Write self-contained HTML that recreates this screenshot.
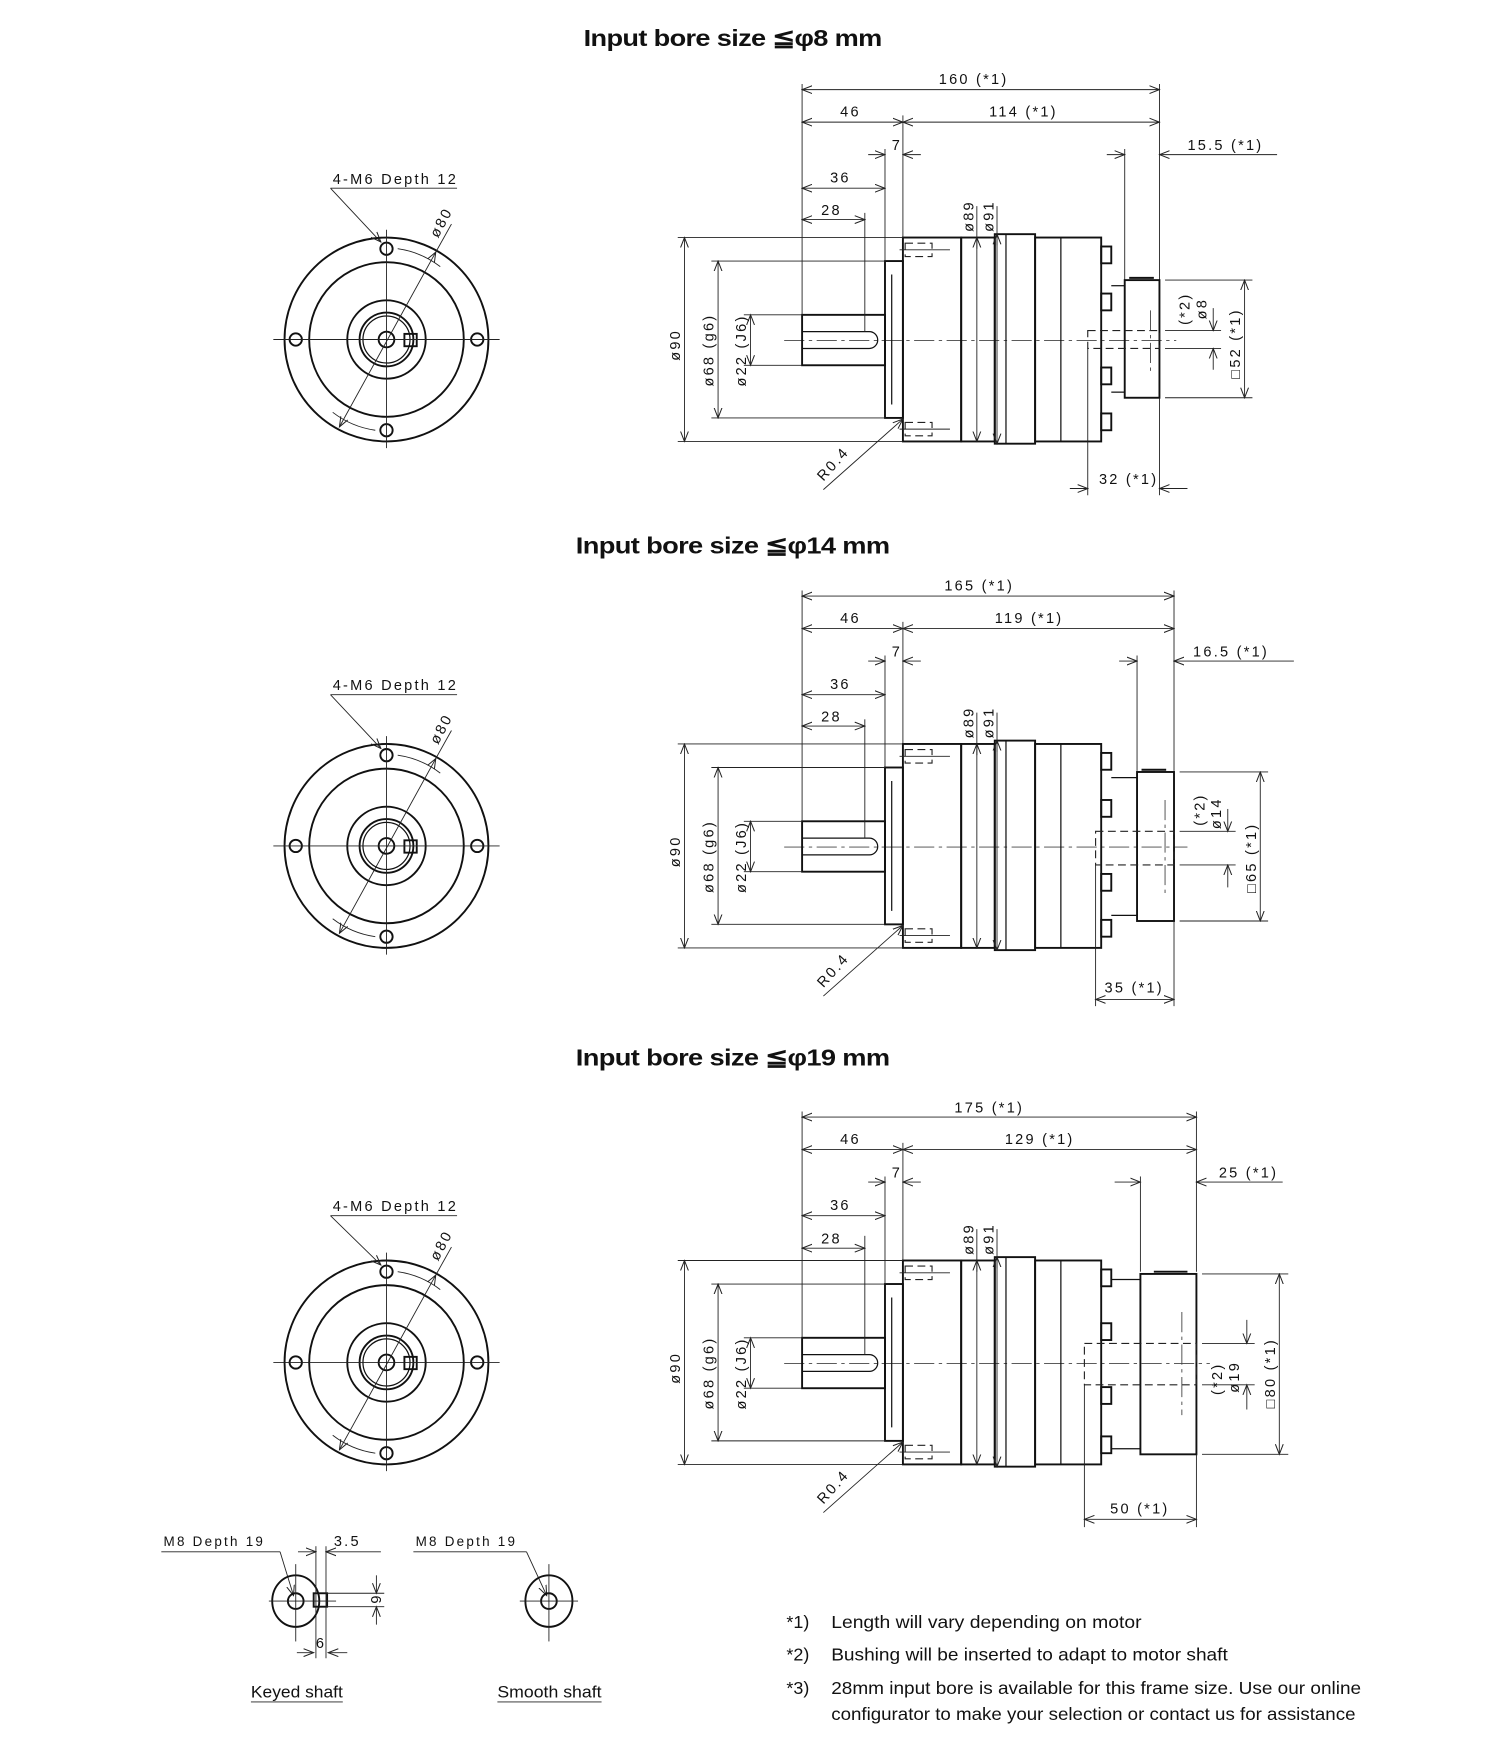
<!DOCTYPE html>
<html><head><meta charset="utf-8"><style>
html,body{margin:0;padding:0;background:#fff}
svg{display:block}
text{font-family:"Liberation Sans",sans-serif;fill:#111}
.t{font-size:13px;letter-spacing:2px}
.h{font-size:21px;font-weight:bold;letter-spacing:-0.5px}
.n{font-size:16px}
.k{stroke:#111;stroke-width:1.7;fill:none}
.m{stroke:#111;stroke-width:1.1;fill:none}
.s{stroke:#222;stroke-width:0.8;fill:none}
.d{stroke:#222;stroke-width:1;fill:none;stroke-dasharray:7,4}
.c{stroke:#444;stroke-width:0.8;fill:none;stroke-dasharray:18,4,3,4}
</style></head><body>
<svg width="1500" height="1749" viewBox="0 0 1339 1561" preserveAspectRatio="none" xmlns="http://www.w3.org/2000/svg">
<defs>
<marker id="a" markerWidth="10" markerHeight="8" refX="9" refY="4" orient="auto-start-reverse" markerUnits="userSpaceOnUse">
<path d="M0,0.5 L9,4 L0,7.5" fill="none" stroke="#222" stroke-width="0.9"/></marker>
</defs>

<!-- ===== SECTION 1 ===== -->
<g id="s1">
<text class="h" x="521" y="41" textLength="266" lengthAdjust="spacingAndGlyphs">Input bore size  ≦φ8 mm</text>
<circle class="k" cx="345" cy="303" r="91"/>
<circle class="k" cx="345" cy="303" r="69"/>
<circle class="k" cx="345" cy="303" r="35"/>
<circle class="k" cx="345" cy="303" r="24"/>
<circle class="m" cx="345" cy="303" r="21"/>
<circle class="k" cx="345" cy="303" r="7"/>
<rect class="k" x="361" y="298" width="11" height="11"/>
<circle class="k" cx="345" cy="222" r="5.5"/><circle class="k" cx="345" cy="384" r="5.5"/>
<circle class="k" cx="264" cy="303" r="5.5"/><circle class="k" cx="426" cy="303" r="5.5"/>
<line class="s" x1="244" y1="303" x2="446" y2="303"/><line class="s" x1="345" y1="205" x2="345" y2="400"/>
<line class="s" x1="303" y1="381" x2="389" y2="225" marker-start="url(#a)" marker-end="url(#a)"/>
<line class="s" x1="389" y1="225" x2="403" y2="200"/>
<path class="s" d="M355,222 A81,81 0 0 1 393,238"/>
<path class="s" d="M297,368 A81,81 0 0 0 335,384"/>
<text class="t" x="297" y="164">4-M6 Depth 12</text>
<line class="s" x1="295" y1="168" x2="408" y2="168"/>
<line class="s" x1="295" y1="168" x2="340" y2="216" marker-end="url(#a)"/>
<text class="t" transform="translate(391,213) rotate(-62)">ø80</text>
<line class="c" x1="700" y1="304" x2="1050" y2="304"/>
<rect class="k" x="716" y="281" width="74" height="45"/>
<path class="m" d="M716,296 H776 A7.5,7.5 0 0 1 776,311 H716"/>
<rect class="k" x="790" y="233" width="16" height="140"/>
<line class="m" x1="796" y1="245" x2="796" y2="361"/>
<rect class="k" x="806" y="212" width="52" height="182"/>
<rect class="k" x="858" y="212" width="30" height="182"/>
<rect class="k" x="888" y="209" width="36" height="187"/>
<line class="m" x1="898" y1="209" x2="898" y2="396"/>
<rect class="k" x="924" y="212" width="59" height="182"/>
<line class="m" x1="947" y1="212" x2="947" y2="394"/>
<rect class="d" x="808" y="217" width="24" height="12"/><rect class="d" x="808" y="377" width="24" height="12"/>
<line class="s" x1="803" y1="223" x2="848" y2="223"/><line class="s" x1="803" y1="383" x2="848" y2="383"/>
<rect class="k" x="983" y="220" width="9" height="15"/><rect class="k" x="983" y="262" width="9" height="15"/>
<rect class="k" x="983" y="328" width="9" height="15"/><rect class="k" x="983" y="369" width="9" height="15"/>
<line class="s" x1="716" y1="75" x2="716" y2="281"/>
<line class="s" x1="806" y1="103" x2="806" y2="212"/>
<line class="s" x1="790" y1="133" x2="790" y2="233"/>
<line class="s" x1="772" y1="190" x2="772" y2="296"/>
<line class="s" x1="716" y1="109" x2="806" y2="109" marker-start="url(#a)" marker-end="url(#a)"/>
<text class="t" x="750" y="104">46</text>
<line class="s" x1="775" y1="138" x2="790" y2="138" marker-end="url(#a)"/>
<line class="s" x1="822" y1="138" x2="806" y2="138" marker-end="url(#a)"/>
<text class="t" x="796" y="134">7</text>
<line class="s" x1="716" y1="168" x2="790" y2="168" marker-start="url(#a)" marker-end="url(#a)"/>
<text class="t" x="741" y="163">36</text>
<line class="s" x1="716" y1="196" x2="772" y2="196" marker-start="url(#a)" marker-end="url(#a)"/>
<text class="t" x="733" y="192">28</text>
<line class="s" x1="872" y1="184" x2="872" y2="394" marker-end="url(#a)"/>
<line class="s" x1="872" y1="212" x2="872" y2="222" marker-start="url(#a)"/>
<line class="s" x1="890" y1="184" x2="890" y2="396" marker-end="url(#a)"/>
<line class="s" x1="890" y1="209" x2="890" y2="219" marker-start="url(#a)"/>
<text class="t" transform="translate(869,207) rotate(-90)">ø89</text>
<text class="t" transform="translate(887,207) rotate(-90)">ø91</text>
<line class="s" x1="605" y1="212" x2="806" y2="212"/><line class="s" x1="605" y1="394" x2="806" y2="394"/>
<line class="s" x1="611" y1="212" x2="611" y2="394" marker-start="url(#a)" marker-end="url(#a)"/>
<line class="s" x1="635" y1="233" x2="790" y2="233"/><line class="s" x1="635" y1="373" x2="790" y2="373"/>
<line class="s" x1="641" y1="233" x2="641" y2="373" marker-start="url(#a)" marker-end="url(#a)"/>
<line class="s" x1="664" y1="281" x2="716" y2="281"/><line class="s" x1="664" y1="326" x2="716" y2="326"/>
<line class="s" x1="670" y1="281" x2="670" y2="326" marker-start="url(#a)" marker-end="url(#a)"/>
<text class="t" transform="translate(607,322) rotate(-90)">ø90</text>
<text class="t" transform="translate(637,345) rotate(-90)">ø68 (g6)</text>
<text class="t" transform="translate(666,345) rotate(-90)">ø22 (J6)</text>
<line class="s" x1="735" y1="437" x2="806" y2="374" marker-end="url(#a)"/>
<text class="t" transform="translate(735,430) rotate(-48)">R0.4</text>
<line class="s" x1="1035" y1="75" x2="1035" y2="250"/>
<line class="s" x1="716" y1="80" x2="1035" y2="80" marker-start="url(#a)" marker-end="url(#a)"/>
<text class="t" x="838" y="75">160 (*1)</text>
<line class="s" x1="806" y1="109" x2="1035" y2="109" marker-start="url(#a)" marker-end="url(#a)"/>
<text class="t" x="883" y="104">114 (*1)</text>
<line class="s" x1="1004" y1="133" x2="1004" y2="250"/>
<line class="s" x1="988" y1="138" x2="1004" y2="138" marker-end="url(#a)"/>
<line class="s" x1="1140" y1="138" x2="1035" y2="138" marker-end="url(#a)"/>
<text class="t" x="1060" y="134">15.5 (*1)</text>
<rect class="k" x="1004" y="250" width="31" height="105"/>
<line class="k" x1="1008" y1="248" x2="1030" y2="248"/>
<line class="m" x1="992" y1="255" x2="1004" y2="255"/><line class="m" x1="992" y1="350" x2="1004" y2="350"/>
<rect class="d" x="971" y="295" width="64" height="16"/>
<line class="c" x1="1027" y1="277" x2="1027" y2="332"/>
<line class="s" x1="971" y1="311" x2="971" y2="442"/><line class="s" x1="1035" y1="355" x2="1035" y2="442"/>
<line class="s" x1="955" y1="436" x2="971" y2="436" marker-end="url(#a)"/>
<line class="s" x1="1060" y1="436" x2="1035" y2="436" marker-end="url(#a)"/>
<text class="t" x="981" y="432">32 (*1)</text>
<line class="s" x1="1040" y1="250" x2="1118" y2="250"/><line class="s" x1="1040" y1="355" x2="1118" y2="355"/>
<line class="s" x1="1111" y1="250" x2="1111" y2="355" marker-start="url(#a)" marker-end="url(#a)"/>
<text class="t" transform="translate(1107,338) rotate(-90)">□52 (*1)</text>
<line class="s" x1="1040" y1="295" x2="1090" y2="295"/><line class="s" x1="1040" y1="311" x2="1090" y2="311"/>
<line class="s" x1="1083" y1="275" x2="1083" y2="295" marker-end="url(#a)"/>
<line class="s" x1="1083" y1="330" x2="1083" y2="311" marker-end="url(#a)"/>
<text class="t" transform="translate(1062,290) rotate(-90)">(*2)</text>
<text class="t" transform="translate(1077,285) rotate(-90)">ø8</text>
</g>

<!-- ===== SECTION 2 ===== -->
<g transform="translate(0,452)">
<text class="h" x="514" y="42" textLength="280" lengthAdjust="spacingAndGlyphs">Input bore size  ≦φ14 mm</text>
<circle class="k" cx="345" cy="303" r="91"/>
<circle class="k" cx="345" cy="303" r="69"/>
<circle class="k" cx="345" cy="303" r="35"/>
<circle class="k" cx="345" cy="303" r="24"/>
<circle class="m" cx="345" cy="303" r="21"/>
<circle class="k" cx="345" cy="303" r="7"/>
<rect class="k" x="361" y="298" width="11" height="11"/>
<circle class="k" cx="345" cy="222" r="5.5"/><circle class="k" cx="345" cy="384" r="5.5"/>
<circle class="k" cx="264" cy="303" r="5.5"/><circle class="k" cx="426" cy="303" r="5.5"/>
<line class="s" x1="244" y1="303" x2="446" y2="303"/><line class="s" x1="345" y1="205" x2="345" y2="400"/>
<line class="s" x1="303" y1="381" x2="389" y2="225" marker-start="url(#a)" marker-end="url(#a)"/>
<line class="s" x1="389" y1="225" x2="403" y2="200"/>
<path class="s" d="M355,222 A81,81 0 0 1 393,238"/>
<path class="s" d="M297,368 A81,81 0 0 0 335,384"/>
<text class="t" x="297" y="164">4-M6 Depth 12</text>
<line class="s" x1="295" y1="168" x2="408" y2="168"/>
<line class="s" x1="295" y1="168" x2="340" y2="216" marker-end="url(#a)"/>
<text class="t" transform="translate(391,213) rotate(-62)">ø80</text>
<line class="c" x1="700" y1="304" x2="1060" y2="304"/>
<rect class="k" x="716" y="281" width="74" height="45"/>
<path class="m" d="M716,296 H776 A7.5,7.5 0 0 1 776,311 H716"/>
<rect class="k" x="790" y="233" width="16" height="140"/>
<line class="m" x1="796" y1="245" x2="796" y2="361"/>
<rect class="k" x="806" y="212" width="52" height="182"/>
<rect class="k" x="858" y="212" width="30" height="182"/>
<rect class="k" x="888" y="209" width="36" height="187"/>
<line class="m" x1="898" y1="209" x2="898" y2="396"/>
<rect class="k" x="924" y="212" width="59" height="182"/>
<line class="m" x1="947" y1="212" x2="947" y2="394"/>
<rect class="d" x="808" y="217" width="24" height="12"/><rect class="d" x="808" y="377" width="24" height="12"/>
<line class="s" x1="803" y1="223" x2="848" y2="223"/><line class="s" x1="803" y1="383" x2="848" y2="383"/>
<rect class="k" x="983" y="220" width="9" height="15"/><rect class="k" x="983" y="262" width="9" height="15"/>
<rect class="k" x="983" y="328" width="9" height="15"/><rect class="k" x="983" y="369" width="9" height="15"/>
<line class="s" x1="716" y1="75" x2="716" y2="281"/>
<line class="s" x1="806" y1="103" x2="806" y2="212"/>
<line class="s" x1="790" y1="133" x2="790" y2="233"/>
<line class="s" x1="772" y1="190" x2="772" y2="296"/>
<line class="s" x1="716" y1="109" x2="806" y2="109" marker-start="url(#a)" marker-end="url(#a)"/>
<text class="t" x="750" y="104">46</text>
<line class="s" x1="775" y1="138" x2="790" y2="138" marker-end="url(#a)"/>
<line class="s" x1="822" y1="138" x2="806" y2="138" marker-end="url(#a)"/>
<text class="t" x="796" y="134">7</text>
<line class="s" x1="716" y1="168" x2="790" y2="168" marker-start="url(#a)" marker-end="url(#a)"/>
<text class="t" x="741" y="163">36</text>
<line class="s" x1="716" y1="196" x2="772" y2="196" marker-start="url(#a)" marker-end="url(#a)"/>
<text class="t" x="733" y="192">28</text>
<line class="s" x1="872" y1="184" x2="872" y2="394" marker-end="url(#a)"/>
<line class="s" x1="872" y1="212" x2="872" y2="222" marker-start="url(#a)"/>
<line class="s" x1="890" y1="184" x2="890" y2="396" marker-end="url(#a)"/>
<line class="s" x1="890" y1="209" x2="890" y2="219" marker-start="url(#a)"/>
<text class="t" transform="translate(869,207) rotate(-90)">ø89</text>
<text class="t" transform="translate(887,207) rotate(-90)">ø91</text>
<line class="s" x1="605" y1="212" x2="806" y2="212"/><line class="s" x1="605" y1="394" x2="806" y2="394"/>
<line class="s" x1="611" y1="212" x2="611" y2="394" marker-start="url(#a)" marker-end="url(#a)"/>
<line class="s" x1="635" y1="233" x2="790" y2="233"/><line class="s" x1="635" y1="373" x2="790" y2="373"/>
<line class="s" x1="641" y1="233" x2="641" y2="373" marker-start="url(#a)" marker-end="url(#a)"/>
<line class="s" x1="664" y1="281" x2="716" y2="281"/><line class="s" x1="664" y1="326" x2="716" y2="326"/>
<line class="s" x1="670" y1="281" x2="670" y2="326" marker-start="url(#a)" marker-end="url(#a)"/>
<text class="t" transform="translate(607,322) rotate(-90)">ø90</text>
<text class="t" transform="translate(637,345) rotate(-90)">ø68 (g6)</text>
<text class="t" transform="translate(666,345) rotate(-90)">ø22 (J6)</text>
<line class="s" x1="735" y1="437" x2="806" y2="374" marker-end="url(#a)"/>
<text class="t" transform="translate(735,430) rotate(-48)">R0.4</text>
<line class="s" x1="1048" y1="75" x2="1048" y2="236"/>
<line class="s" x1="716" y1="80" x2="1048" y2="80" marker-start="url(#a)" marker-end="url(#a)"/>
<text class="t" x="843" y="75">165 (*1)</text>
<line class="s" x1="806" y1="109" x2="1048" y2="109" marker-start="url(#a)" marker-end="url(#a)"/>
<text class="t" x="888" y="104">119 (*1)</text>
<line class="s" x1="1015" y1="133" x2="1015" y2="236"/>
<line class="s" x1="999" y1="138" x2="1015" y2="138" marker-end="url(#a)"/>
<line class="s" x1="1155" y1="138" x2="1048" y2="138" marker-end="url(#a)"/>
<text class="t" x="1065" y="134">16.5 (*1)</text>
<rect class="k" x="1015" y="237" width="33" height="133"/>
<line class="k" x1="1019" y1="235" x2="1041" y2="235"/>
<line class="m" x1="992" y1="242" x2="1015" y2="242"/><line class="m" x1="992" y1="365" x2="1015" y2="365"/>
<rect class="d" x="978" y="290" width="70" height="30"/>
<line class="c" x1="1040" y1="262" x2="1040" y2="346"/>
<line class="s" x1="978" y1="320" x2="978" y2="446"/><line class="s" x1="1048" y1="370" x2="1048" y2="446"/>
<line class="s" x1="978" y1="440" x2="1048" y2="440" marker-start="url(#a)" marker-end="url(#a)"/>
<text class="t" x="986" y="434">35 (*1)</text>
<line class="s" x1="1053" y1="237" x2="1132" y2="237"/><line class="s" x1="1053" y1="370" x2="1132" y2="370"/>
<line class="s" x1="1125" y1="237" x2="1125" y2="370" marker-start="url(#a)" marker-end="url(#a)"/>
<text class="t" transform="translate(1121,345) rotate(-90)">□65 (*1)</text>
<line class="s" x1="1053" y1="290" x2="1103" y2="290"/><line class="s" x1="1053" y1="320" x2="1103" y2="320"/>
<line class="s" x1="1096" y1="270" x2="1096" y2="290" marker-end="url(#a)"/>
<line class="s" x1="1096" y1="340" x2="1096" y2="320" marker-end="url(#a)"/>
<text class="t" transform="translate(1075,285) rotate(-90)">(*2)</text>
<text class="t" transform="translate(1090,288) rotate(-90)">ø14</text>
</g>

<!-- ===== SECTION 3 ===== -->
<g transform="translate(0,913)">
<text class="h" x="514" y="38" textLength="280" lengthAdjust="spacingAndGlyphs">Input bore size  ≦φ19 mm</text>
<circle class="k" cx="345" cy="303" r="91"/>
<circle class="k" cx="345" cy="303" r="69"/>
<circle class="k" cx="345" cy="303" r="35"/>
<circle class="k" cx="345" cy="303" r="24"/>
<circle class="m" cx="345" cy="303" r="21"/>
<circle class="k" cx="345" cy="303" r="7"/>
<rect class="k" x="361" y="298" width="11" height="11"/>
<circle class="k" cx="345" cy="222" r="5.5"/><circle class="k" cx="345" cy="384" r="5.5"/>
<circle class="k" cx="264" cy="303" r="5.5"/><circle class="k" cx="426" cy="303" r="5.5"/>
<line class="s" x1="244" y1="303" x2="446" y2="303"/><line class="s" x1="345" y1="205" x2="345" y2="400"/>
<line class="s" x1="303" y1="381" x2="389" y2="225" marker-start="url(#a)" marker-end="url(#a)"/>
<line class="s" x1="389" y1="225" x2="403" y2="200"/>
<path class="s" d="M355,222 A81,81 0 0 1 393,238"/>
<path class="s" d="M297,368 A81,81 0 0 0 335,384"/>
<text class="t" x="297" y="168">4-M6 Depth 12</text>
<line class="s" x1="295" y1="172" x2="408" y2="172"/>
<line class="s" x1="295" y1="172" x2="340" y2="216" marker-end="url(#a)"/>
<text class="t" transform="translate(391,213) rotate(-62)">ø80</text>
<line class="c" x1="700" y1="304" x2="1080" y2="304"/>
<rect class="k" x="716" y="281" width="74" height="45"/>
<path class="m" d="M716,296 H776 A7.5,7.5 0 0 1 776,311 H716"/>
<rect class="k" x="790" y="233" width="16" height="140"/>
<line class="m" x1="796" y1="245" x2="796" y2="361"/>
<rect class="k" x="806" y="212" width="52" height="182"/>
<rect class="k" x="858" y="212" width="30" height="182"/>
<rect class="k" x="888" y="209" width="36" height="187"/>
<line class="m" x1="898" y1="209" x2="898" y2="396"/>
<rect class="k" x="924" y="212" width="59" height="182"/>
<line class="m" x1="947" y1="212" x2="947" y2="394"/>
<rect class="d" x="808" y="217" width="24" height="12"/><rect class="d" x="808" y="377" width="24" height="12"/>
<line class="s" x1="803" y1="223" x2="848" y2="223"/><line class="s" x1="803" y1="383" x2="848" y2="383"/>
<rect class="k" x="983" y="220" width="9" height="15"/><rect class="k" x="983" y="268" width="9" height="15"/>
<rect class="k" x="983" y="325" width="9" height="15"/><rect class="k" x="983" y="369" width="9" height="15"/>
<line class="s" x1="716" y1="79" x2="716" y2="281"/>
<line class="s" x1="806" y1="107" x2="806" y2="212"/>
<line class="s" x1="790" y1="137" x2="790" y2="233"/>
<line class="s" x1="772" y1="190" x2="772" y2="296"/>
<line class="s" x1="716" y1="113" x2="806" y2="113" marker-start="url(#a)" marker-end="url(#a)"/>
<text class="t" x="750" y="108">46</text>
<line class="s" x1="775" y1="142" x2="790" y2="142" marker-end="url(#a)"/>
<line class="s" x1="822" y1="142" x2="806" y2="142" marker-end="url(#a)"/>
<text class="t" x="796" y="138">7</text>
<line class="s" x1="716" y1="172" x2="790" y2="172" marker-start="url(#a)" marker-end="url(#a)"/>
<text class="t" x="741" y="167">36</text>
<line class="s" x1="716" y1="201" x2="772" y2="201" marker-start="url(#a)" marker-end="url(#a)"/>
<text class="t" x="733" y="197">28</text>
<line class="s" x1="872" y1="184" x2="872" y2="394" marker-end="url(#a)"/>
<line class="s" x1="872" y1="212" x2="872" y2="222" marker-start="url(#a)"/>
<line class="s" x1="890" y1="184" x2="890" y2="396" marker-end="url(#a)"/>
<line class="s" x1="890" y1="209" x2="890" y2="219" marker-start="url(#a)"/>
<text class="t" transform="translate(869,207) rotate(-90)">ø89</text>
<text class="t" transform="translate(887,207) rotate(-90)">ø91</text>
<line class="s" x1="605" y1="212" x2="806" y2="212"/><line class="s" x1="605" y1="394" x2="806" y2="394"/>
<line class="s" x1="611" y1="212" x2="611" y2="394" marker-start="url(#a)" marker-end="url(#a)"/>
<line class="s" x1="635" y1="233" x2="790" y2="233"/><line class="s" x1="635" y1="373" x2="790" y2="373"/>
<line class="s" x1="641" y1="233" x2="641" y2="373" marker-start="url(#a)" marker-end="url(#a)"/>
<line class="s" x1="664" y1="281" x2="716" y2="281"/><line class="s" x1="664" y1="326" x2="716" y2="326"/>
<line class="s" x1="670" y1="281" x2="670" y2="326" marker-start="url(#a)" marker-end="url(#a)"/>
<text class="t" transform="translate(607,322) rotate(-90)">ø90</text>
<text class="t" transform="translate(637,345) rotate(-90)">ø68 (g6)</text>
<text class="t" transform="translate(666,345) rotate(-90)">ø22 (J6)</text>
<line class="s" x1="735" y1="437" x2="806" y2="374" marker-end="url(#a)"/>
<text class="t" transform="translate(735,430) rotate(-48)">R0.4</text>
<line class="s" x1="1068" y1="79" x2="1068" y2="222"/>
<line class="s" x1="716" y1="84" x2="1068" y2="84" marker-start="url(#a)" marker-end="url(#a)"/>
<text class="t" x="852" y="80">175 (*1)</text>
<line class="s" x1="806" y1="113" x2="1068" y2="113" marker-start="url(#a)" marker-end="url(#a)"/>
<text class="t" x="897" y="108">129 (*1)</text>
<line class="s" x1="1018" y1="137" x2="1018" y2="222"/>
<line class="s" x1="995" y1="142" x2="1018" y2="142" marker-end="url(#a)"/>
<line class="s" x1="1145" y1="142" x2="1068" y2="142" marker-end="url(#a)"/>
<text class="t" x="1088" y="138">25 (*1)</text>
<rect class="k" x="1018" y="224" width="50" height="161"/>
<line class="k" x1="1030" y1="222" x2="1060" y2="222"/>
<line class="m" x1="992" y1="229" x2="1018" y2="229"/><line class="m" x1="992" y1="380" x2="1018" y2="380"/>
<rect class="d" x="968" y="286" width="100" height="37"/>
<line class="c" x1="1055" y1="258" x2="1055" y2="350"/>
<line class="s" x1="968" y1="323" x2="968" y2="450"/><line class="s" x1="1068" y1="385" x2="1068" y2="450"/>
<line class="s" x1="968" y1="443" x2="1068" y2="443" marker-start="url(#a)" marker-end="url(#a)"/>
<text class="t" x="991" y="438">50 (*1)</text>
<line class="s" x1="1073" y1="224" x2="1150" y2="224"/><line class="s" x1="1073" y1="385" x2="1150" y2="385"/>
<line class="s" x1="1142" y1="224" x2="1142" y2="385" marker-start="url(#a)" marker-end="url(#a)"/>
<text class="t" transform="translate(1138,344) rotate(-90)">□80 (*1)</text>
<line class="s" x1="1073" y1="286" x2="1120" y2="286"/><line class="s" x1="1073" y1="323" x2="1120" y2="323"/>
<line class="s" x1="1113" y1="265" x2="1113" y2="286" marker-end="url(#a)"/>
<line class="s" x1="1113" y1="345" x2="1113" y2="323" marker-end="url(#a)"/>
<text class="t" transform="translate(1091,332) rotate(-90)">(*2)</text>
<text class="t" transform="translate(1106,330) rotate(-90)">ø19</text>
</g>

<!-- ===== bottom shafts ===== -->
<g>
<text class="t" x="146" y="1380" style="font-size:12px">M8 Depth 19</text>
<line class="s" x1="144" y1="1385" x2="250" y2="1385"/>
<line class="s" x1="250" y1="1385" x2="262" y2="1424" marker-end="url(#a)"/>
<ellipse class="k" cx="264" cy="1429" rx="21" ry="23"/>
<circle class="k" cx="264" cy="1429" r="7"/>
<rect class="k" x="280" y="1422" width="12" height="12"/>
<line class="s" x1="240" y1="1429" x2="300" y2="1429"/>
<line class="s" x1="264" y1="1396" x2="264" y2="1465"/>
<line class="s" x1="282" y1="1380" x2="282" y2="1480"/>
<line class="s" x1="291" y1="1380" x2="291" y2="1480"/>
<line class="s" x1="266" y1="1385" x2="282" y2="1385" marker-end="url(#a)"/>
<line class="s" x1="340" y1="1385" x2="291" y2="1385" marker-end="url(#a)"/>
<text class="t" x="298" y="1380">3.5</text>
<line class="s" x1="292" y1="1422" x2="343" y2="1422"/><line class="s" x1="292" y1="1434" x2="343" y2="1434"/>
<line class="s" x1="336" y1="1406" x2="336" y2="1422" marker-end="url(#a)"/>
<line class="s" x1="336" y1="1450" x2="336" y2="1434" marker-end="url(#a)"/>
<text class="t" transform="translate(331,1424) rotate(90)">6</text>
<line class="s" x1="265" y1="1475" x2="280" y2="1475" marker-end="url(#a)"/>
<line class="s" x1="310" y1="1475" x2="293" y2="1475" marker-end="url(#a)"/>
<text class="t" x="282" y="1471">6</text>
<text x="224" y="1515" style="font-size:15px" textLength="82" lengthAdjust="spacingAndGlyphs">Keyed shaft</text>
<line class="s" x1="224" y1="1519" x2="306" y2="1519"/>

<text class="t" x="371" y="1380" style="font-size:12px">M8 Depth 19</text>
<line class="s" x1="369" y1="1385" x2="470" y2="1385"/>
<line class="s" x1="470" y1="1385" x2="488" y2="1424" marker-end="url(#a)"/>
<ellipse class="k" cx="490" cy="1429" rx="21" ry="23"/>
<circle class="k" cx="490" cy="1429" r="7"/>
<line class="s" x1="464" y1="1429" x2="516" y2="1429"/>
<line class="s" x1="490" y1="1396" x2="490" y2="1465"/>
<text x="444" y="1515" style="font-size:15px" textLength="93" lengthAdjust="spacingAndGlyphs">Smooth shaft</text>
<line class="s" x1="444" y1="1519" x2="537" y2="1519"/>
</g>

<g class="n">
<text class="n" x="702" y="1453">*1)</text><text class="n" x="742" y="1453" textLength="277" lengthAdjust="spacingAndGlyphs">Length will vary depending on motor</text>
<text class="n" x="702" y="1482">*2)</text><text class="n" x="742" y="1482" textLength="354" lengthAdjust="spacingAndGlyphs">Bushing will be inserted to adapt to motor shaft</text>
<text class="n" x="702" y="1512">*3)</text><text class="n" x="742" y="1512" textLength="473" lengthAdjust="spacingAndGlyphs">28mm input bore is available for this frame size. Use our online</text>
<text class="n" x="742" y="1535" textLength="468" lengthAdjust="spacingAndGlyphs">configurator to make your selection or contact us for assistance</text>
</g>
</svg>
</body></html>
